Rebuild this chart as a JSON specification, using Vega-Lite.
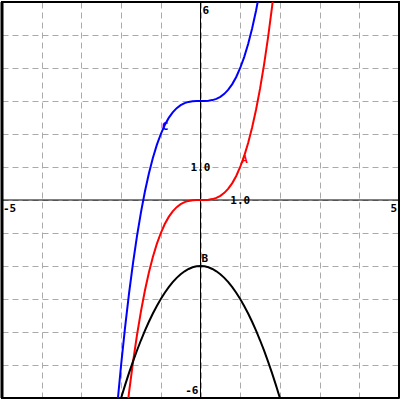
{
  "$schema": "https://vega.github.io/schema/vega-lite/v6.json",
  "width": 400,
  "height": 400,
  "padding": 0,
  "autosize": {"type": "fit", "contains": "padding"},
  "background": "white",
  "data": {"values": [{}]},
  "config": {
    "view": {"stroke": "black", "strokeWidth": 2},
    "axis": {"grid": true, "gridColor": "#aaaaaa", "gridDash": [6, 4], "gridWidth": 1, "domain": false, "ticks": false, "labels": false, "title": null, "labelOverlap": false},
    "axisX": {"tickCount": 10},
    "axisY": {"tickCount": 12}
  },
  "datasets": {
    "curves": [
      {"s": "A", "x": -1.9, "y": -6.859}, {"s": "A", "x": -1.8, "y": -5.832}, {"s": "A", "x": -1.7, "y": -4.913}, {"s": "A", "x": -1.6, "y": -4.096}, {"s": "A", "x": -1.5, "y": -3.375}, {"s": "A", "x": -1.4, "y": -2.744}, {"s": "A", "x": -1.3, "y": -2.197}, {"s": "A", "x": -1.2, "y": -1.728}, {"s": "A", "x": -1.1, "y": -1.331}, {"s": "A", "x": -1.0, "y": -1}, {"s": "A", "x": -0.9, "y": -0.729}, {"s": "A", "x": -0.8, "y": -0.512}, {"s": "A", "x": -0.7, "y": -0.343}, {"s": "A", "x": -0.6, "y": -0.216}, {"s": "A", "x": -0.5, "y": -0.125}, {"s": "A", "x": -0.4, "y": -0.064}, {"s": "A", "x": -0.3, "y": -0.027}, {"s": "A", "x": -0.2, "y": -0.008}, {"s": "A", "x": -0.1, "y": -0.001}, {"s": "A", "x": 0, "y": 0}, {"s": "A", "x": 0.1, "y": 0.001}, {"s": "A", "x": 0.2, "y": 0.008}, {"s": "A", "x": 0.3, "y": 0.027}, {"s": "A", "x": 0.4, "y": 0.064}, {"s": "A", "x": 0.5, "y": 0.125}, {"s": "A", "x": 0.6, "y": 0.216}, {"s": "A", "x": 0.7, "y": 0.343}, {"s": "A", "x": 0.8, "y": 0.512}, {"s": "A", "x": 0.9, "y": 0.729}, {"s": "A", "x": 1.0, "y": 1}, {"s": "A", "x": 1.1, "y": 1.331}, {"s": "A", "x": 1.2, "y": 1.728}, {"s": "A", "x": 1.3, "y": 2.197}, {"s": "A", "x": 1.4, "y": 2.744}, {"s": "A", "x": 1.5, "y": 3.375}, {"s": "A", "x": 1.6, "y": 4.096}, {"s": "A", "x": 1.7, "y": 4.913}, {"s": "A", "x": 1.8, "y": 5.832}, {"s": "A", "x": 1.9, "y": 6.859},
      {"s": "C", "x": -2.1, "y": -6.261}, {"s": "C", "x": -2.0, "y": -5}, {"s": "C", "x": -1.9, "y": -3.859}, {"s": "C", "x": -1.8, "y": -2.832}, {"s": "C", "x": -1.7, "y": -1.913}, {"s": "C", "x": -1.6, "y": -1.096}, {"s": "C", "x": -1.5, "y": -0.375}, {"s": "C", "x": -1.4, "y": 0.256}, {"s": "C", "x": -1.3, "y": 0.803}, {"s": "C", "x": -1.2, "y": 1.272}, {"s": "C", "x": -1.1, "y": 1.669}, {"s": "C", "x": -1.0, "y": 2}, {"s": "C", "x": -0.9, "y": 2.271}, {"s": "C", "x": -0.8, "y": 2.488}, {"s": "C", "x": -0.7, "y": 2.657}, {"s": "C", "x": -0.6, "y": 2.784}, {"s": "C", "x": -0.5, "y": 2.875}, {"s": "C", "x": -0.4, "y": 2.936}, {"s": "C", "x": -0.3, "y": 2.973}, {"s": "C", "x": -0.2, "y": 2.992}, {"s": "C", "x": -0.1, "y": 2.999}, {"s": "C", "x": 0, "y": 3}, {"s": "C", "x": 0.1, "y": 3.001}, {"s": "C", "x": 0.2, "y": 3.008}, {"s": "C", "x": 0.3, "y": 3.027}, {"s": "C", "x": 0.4, "y": 3.064}, {"s": "C", "x": 0.5, "y": 3.125}, {"s": "C", "x": 0.6, "y": 3.216}, {"s": "C", "x": 0.7, "y": 3.343}, {"s": "C", "x": 0.8, "y": 3.512}, {"s": "C", "x": 0.9, "y": 3.729}, {"s": "C", "x": 1.0, "y": 4}, {"s": "C", "x": 1.1, "y": 4.331}, {"s": "C", "x": 1.2, "y": 4.728}, {"s": "C", "x": 1.3, "y": 5.197}, {"s": "C", "x": 1.4, "y": 5.744}, {"s": "C", "x": 1.5, "y": 6.375},
      {"s": "B", "x": -2.1, "y": -6.41}, {"s": "B", "x": -2.0, "y": -6}, {"s": "B", "x": -1.9, "y": -5.61}, {"s": "B", "x": -1.8, "y": -5.24}, {"s": "B", "x": -1.7, "y": -4.89}, {"s": "B", "x": -1.6, "y": -4.56}, {"s": "B", "x": -1.5, "y": -4.25}, {"s": "B", "x": -1.4, "y": -3.96}, {"s": "B", "x": -1.3, "y": -3.69}, {"s": "B", "x": -1.2, "y": -3.44}, {"s": "B", "x": -1.1, "y": -3.21}, {"s": "B", "x": -1.0, "y": -3}, {"s": "B", "x": -0.9, "y": -2.81}, {"s": "B", "x": -0.8, "y": -2.64}, {"s": "B", "x": -0.7, "y": -2.49}, {"s": "B", "x": -0.6, "y": -2.36}, {"s": "B", "x": -0.5, "y": -2.25}, {"s": "B", "x": -0.4, "y": -2.16}, {"s": "B", "x": -0.3, "y": -2.09}, {"s": "B", "x": -0.2, "y": -2.04}, {"s": "B", "x": -0.1, "y": -2.01}, {"s": "B", "x": 0, "y": -2}, {"s": "B", "x": 0.1, "y": -2.01}, {"s": "B", "x": 0.2, "y": -2.04}, {"s": "B", "x": 0.3, "y": -2.09}, {"s": "B", "x": 0.4, "y": -2.16}, {"s": "B", "x": 0.5, "y": -2.25}, {"s": "B", "x": 0.6, "y": -2.36}, {"s": "B", "x": 0.7, "y": -2.49}, {"s": "B", "x": 0.8, "y": -2.64}, {"s": "B", "x": 0.9, "y": -2.81}, {"s": "B", "x": 1.0, "y": -3}, {"s": "B", "x": 1.1, "y": -3.21}, {"s": "B", "x": 1.2, "y": -3.44}, {"s": "B", "x": 1.3, "y": -3.69}, {"s": "B", "x": 1.4, "y": -3.96}, {"s": "B", "x": 1.5, "y": -4.25}, {"s": "B", "x": 1.6, "y": -4.56}, {"s": "B", "x": 1.7, "y": -4.89}, {"s": "B", "x": 1.8, "y": -5.24}, {"s": "B", "x": 1.9, "y": -5.61}, {"s": "B", "x": 2.0, "y": -6}, {"s": "B", "x": 2.1, "y": -6.41}
    ],
    "curveLabels": [
      {"s": "A", "x": 1.0, "y": 1},
      {"s": "C", "x": -1.0, "y": 2},
      {"s": "B", "x": 0, "y": -2}
    ]
  },
  "layer": [
    {
      "mark": {"type": "rule", "color": "black", "strokeWidth": 1},
      "encoding": {"x": {"datum": 0, "type": "quantitative", "scale": {"domain": [-5, 5], "nice": false, "zero": false}}}
    },
    {
      "mark": {"type": "rule", "color": "black", "strokeWidth": 1},
      "encoding": {"y": {"datum": 0, "type": "quantitative", "scale": {"domain": [-6, 6], "nice": false, "zero": false}}}
    },
    {"mark": {"type": "rule", "color": "black", "strokeWidth": 3}, "encoding": {"x": {"datum": -5, "type": "quantitative"}}},
    {"mark": {"type": "rule", "color": "black", "strokeWidth": 2}, "encoding": {"x": {"datum": 5, "type": "quantitative"}}},
    {"mark": {"type": "rule", "color": "black", "strokeWidth": 2}, "encoding": {"y": {"datum": 6, "type": "quantitative"}}},
    {"mark": {"type": "rule", "color": "black", "strokeWidth": 2}, "encoding": {"y": {"datum": -6, "type": "quantitative"}}},
    {
      "data": {"name": "curves"},
      "mark": {"type": "line", "strokeWidth": 2, "clip": true},
      "encoding": {
        "x": {"field": "x", "type": "quantitative"},
        "y": {"field": "y", "type": "quantitative"},
        "color": {"field": "s", "type": "nominal", "scale": {"domain": ["A", "B", "C"], "range": ["#ff0000", "#000000", "#0000ff"]}, "legend": null},
        "order": {"field": "x"}
      }
    },
    {
      "data": {"name": "curveLabels"},
      "mark": {"type": "text", "align": "left", "baseline": "bottom", "dx": 1, "dy": -2, "font": "DejaVu Sans Mono", "fontWeight": "bold", "fontSize": 11},
      "encoding": {
        "x": {"field": "x", "type": "quantitative"},
        "y": {"field": "y", "type": "quantitative"},
        "text": {"field": "s"},
        "color": {"field": "s", "type": "nominal", "legend": null}
      }
    },
    {
      "mark": {"type": "text", "align": "left", "baseline": "top", "dx": 2, "dy": 3, "font": "DejaVu Sans Mono", "fontWeight": "bold", "fontSize": 11, "color": "black"},
      "encoding": {"x": {"datum": 0, "type": "quantitative"}, "y": {"datum": 6, "type": "quantitative"}, "text": {"value": "6"}}
    },
    {
      "mark": {"type": "text", "align": "right", "baseline": "bottom", "dx": -2, "dy": -2, "font": "DejaVu Sans Mono", "fontWeight": "bold", "fontSize": 11, "color": "black"},
      "encoding": {"x": {"datum": 0, "type": "quantitative"}, "y": {"datum": -6, "type": "quantitative"}, "text": {"value": "-6"}}
    },
    {
      "mark": {"type": "text", "align": "left", "baseline": "top", "dx": 1, "dy": 3, "font": "DejaVu Sans Mono", "fontWeight": "bold", "fontSize": 11, "color": "black"},
      "encoding": {"x": {"datum": -5, "type": "quantitative"}, "y": {"datum": 0, "type": "quantitative"}, "text": {"value": "-5"}}
    },
    {
      "mark": {"type": "text", "align": "right", "baseline": "top", "dx": -2, "dy": 3, "font": "DejaVu Sans Mono", "fontWeight": "bold", "fontSize": 11, "color": "black"},
      "encoding": {"x": {"datum": 5, "type": "quantitative"}, "y": {"datum": 0, "type": "quantitative"}, "text": {"value": "5"}}
    },
    {
      "mark": {"type": "text", "align": "center", "baseline": "middle", "dx": 0, "dy": 1, "font": "DejaVu Sans Mono", "fontWeight": "bold", "fontSize": 11, "color": "black"},
      "encoding": {"x": {"datum": 1, "type": "quantitative"}, "y": {"datum": 0, "type": "quantitative"}, "text": {"value": "1.0"}}
    },
    {
      "mark": {"type": "text", "align": "center", "baseline": "middle", "dx": 0, "dy": 1, "font": "DejaVu Sans Mono", "fontWeight": "bold", "fontSize": 11, "color": "black"},
      "encoding": {"x": {"datum": 0, "type": "quantitative"}, "y": {"datum": 1, "type": "quantitative"}, "text": {"value": "1.0"}}
    }
  ]
}
